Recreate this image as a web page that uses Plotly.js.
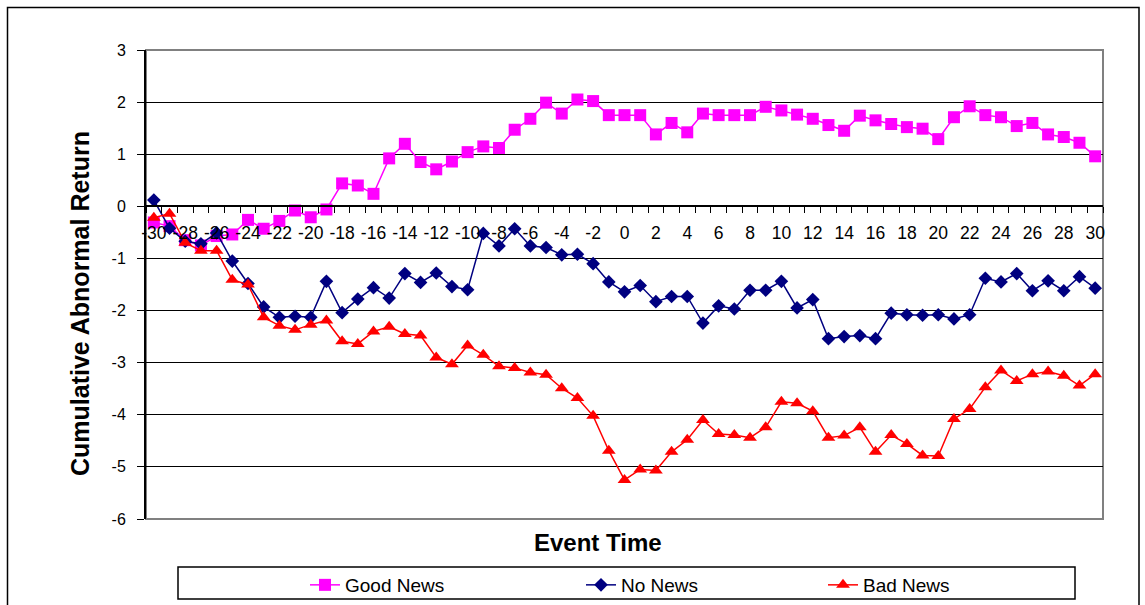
<!DOCTYPE html>
<html>
<head>
<meta charset="utf-8">
<script src="https://cdn.plot.ly/plotly-3.0.1.min.js"></script>
<style>html,body{margin:0;padding:0;background:#fff;}#chart{width:1145px;height:605px;}</style>
</head>
<body>
<div id="chart"></div>
<script>
// Event time (days relative to event)
const eventTime = [];
for (let t = -30; t <= 30; t++) eventTime.push(t);

const goodNews = [-0.31,-0.38,-0.65,-0.75,-0.57,-0.54,-0.26,-0.43,-0.28,-0.08,
  -0.21,-0.06,0.44,0.40,0.24,0.92,1.20,0.85,0.71,0.86,
  1.04,1.15,1.12,1.47,1.68,1.99,1.78,2.05,2.02,1.75,
  1.75,1.75,1.38,1.60,1.42,1.78,1.75,1.75,1.75,1.91,
  1.84,1.76,1.68,1.56,1.45,1.74,1.65,1.58,1.52,1.49,
  1.29,1.71,1.92,1.75,1.71,1.54,1.60,1.38,1.33,1.22,0.96];

const noNews = [0.12,-0.42,-0.67,-0.72,-0.51,-1.05,-1.48,-1.93,-2.13,-2.11,
  -2.13,-1.44,-2.04,-1.78,-1.56,-1.76,-1.29,-1.46,-1.28,-1.54,
  -1.60,-0.52,-0.76,-0.43,-0.76,-0.79,-0.93,-0.92,-1.10,-1.45,
  -1.64,-1.52,-1.83,-1.73,-1.73,-2.24,-1.91,-1.97,-1.61,-1.61,
  -1.44,-1.95,-1.79,-2.54,-2.50,-2.48,-2.54,-2.05,-2.08,-2.09,
  -2.08,-2.16,-2.08,-1.38,-1.45,-1.29,-1.62,-1.43,-1.62,-1.35,-1.57];

const badNews = [-0.22,-0.14,-0.70,-0.85,-0.85,-1.41,-1.50,-2.13,-2.29,-2.37,
  -2.27,-2.19,-2.59,-2.64,-2.40,-2.31,-2.45,-2.48,-2.90,-3.03,
  -2.67,-2.85,-3.07,-3.10,-3.19,-3.23,-3.49,-3.68,-4.02,-4.69,
  -5.25,-5.05,-5.07,-4.71,-4.48,-4.10,-4.37,-4.39,-4.44,-4.24,
  -3.75,-3.78,-3.93,-4.44,-4.40,-4.24,-4.71,-4.39,-4.56,-4.78,
  -4.79,-4.08,-3.89,-3.47,-3.15,-3.35,-3.22,-3.17,-3.25,-3.44,-3.22];

const seriesNames = ['Good News','No News','Bad News'];
const yTickVals = [-6,-5,-4,-3,-2,-1,0,1,2,3];
const xTickLabels = eventTime.filter(t => t % 2 === 0);

const FONT = 'Liberation Sans, Arial, sans-serif';
const tickBoundaries = eventTime.map(t => t - 0.5).concat([eventTime[eventTime.length-1] + 0.5]);

const traces = [
  {x: eventTime, y: goodNews, name: seriesNames[0], type: 'scatter', mode: 'lines+markers',
   line: {color: '#FF00FF', width: 1.5}, marker: {symbol: 'square', size: 12, color: '#FF00FF'}, legend: 'legend'},
  {x: eventTime, y: noNews, name: seriesNames[1], type: 'scatter', mode: 'lines+markers',
   line: {color: '#000080', width: 1.5}, marker: {symbol: 'diamond', size: 10.5, color: '#000080'}, legend: 'legend2'},
  {x: eventTime, y: badNews, name: seriesNames[2], type: 'scatter', mode: 'lines+markers',
   line: {color: '#FF0000', width: 1.5}, marker: {symbol: 'triangle-up', size: 12, color: '#FF0000'}, legend: 'legend3'},
  {x: eventTime, y: noNews, xaxis: 'x2', yaxis: 'y', type: 'scatter', mode: 'lines', opacity: 0,
   showlegend: false, hoverinfo: 'skip', line: {width: 0}}
];

const W = 1145, H = 605, L = 146, R = 42, T = 50, B = 86;
const pw = W - L - R, ph = H - T - B;
const px = v => (v - L) / pw;
const py = v => (H - B - v) / ph;

const legendCommon = {orientation: 'h', xanchor: 'left', yanchor: 'middle', y: py(585),
  bgcolor: 'rgba(0,0,0,0)', borderwidth: 0, font: {family: FONT, size: 19, color: '#000'}};

const layout = {
  width: W, height: H,
  margin: {l: L, r: R, t: T, b: B, pad: 0, autoexpand: false},
  paper_bgcolor: '#fff', plot_bgcolor: '#fff',
  font: {family: FONT, color: '#000'},
  showlegend: true,
  xaxis: {range: [-30.5, 30.5], tickvals: xTickLabels, ticktext: xTickLabels.map(String),
    ticks: '', showline: true, linecolor: '#000', linewidth: 2, anchor: 'free', position: 2/3,
    showgrid: false, zeroline: false, tickfont: {family: FONT, size: 17.5, color: '#000'},
    ticklabelstandoff: 11, fixedrange: true, automargin: false},
  xaxis2: {range: [-30.5, 30.5], overlaying: 'x', tickvals: tickBoundaries, ticks: 'outside', ticklen: 6,
    tickwidth: 1, tickcolor: '#000', showticklabels: false, anchor: 'free', position: 2/3,
    showline: false, showgrid: false, zeroline: false, side: 'bottom', automargin: false},
  yaxis: {range: [-6, 3], tickvals: yTickVals, ticktext: yTickVals.map(String), ticks: 'outside', ticklen: 7,
    tickwidth: 1, tickcolor: '#000', automargin: false,
    showline: true, linecolor: '#000', linewidth: 2, showgrid: true, gridcolor: '#000', gridwidth: 1,
    zeroline: false, tickfont: {family: FONT, size: 16, color: '#000'}, ticklabelstandoff: 8},
  legend: Object.assign({}, legendCommon, {x: px(305)}),
  legend2: Object.assign({}, legendCommon, {x: px(581)}),
  legend3: Object.assign({}, legendCommon, {x: px(823)}),
  annotations: [
    {text: '<b>Event Time</b>', xref: 'paper', yref: 'paper', x: px(598), y: py(542),
     xanchor: 'center', yanchor: 'middle', showarrow: false, font: {family: FONT, size: 24, color: '#000'}},
    {text: '<b>Cumulative Abnormal Return</b>', xref: 'paper', yref: 'paper', x: px(80), y: py(304),
     xanchor: 'center', yanchor: 'middle', textangle: -90, showarrow: false,
     font: {family: FONT, size: 25, color: '#000'}}
  ],
  shapes: [
    {type: 'rect', xref: 'paper', yref: 'paper', x0: 0, x1: 1, y0: 0, y1: 1, layer: 'between',
     line: {color: '#808080', width: 2}},
    {type: 'rect', xref: 'paper', yref: 'paper', x0: px(7.5), x1: px(1139), y0: py(612), y1: py(7.5), layer: 'below',
     line: {color: '#000', width: 1.5}},
    {type: 'rect', xref: 'paper', yref: 'paper', x0: px(178), x1: px(1075), y0: py(599), y1: py(567), layer: 'below',
     line: {color: '#000', width: 1.5}, fillcolor: '#fff'}
  ]
};

Plotly.newPlot('chart', traces, layout, {displayModeBar: false, staticPlot: true});
</script>
</body>
</html>
